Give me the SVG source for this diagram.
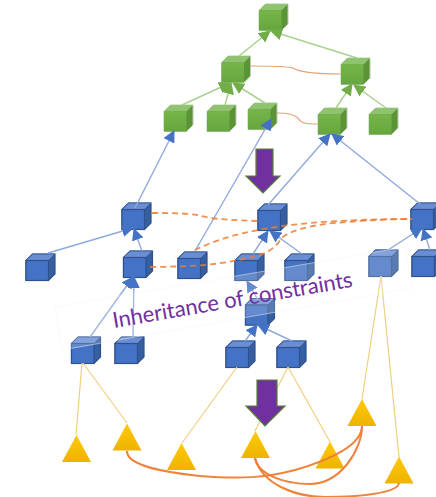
<svg xmlns="http://www.w3.org/2000/svg" xmlns:xlink="http://www.w3.org/1999/xlink" width="436" height="497" viewBox="0 0 436 497">
<style>
.gl{fill:none;stroke:#a9d18e;stroke-width:1.500}
.bl{fill:none;stroke:#8faadc;stroke-width:1.400}
.yl{fill:none;stroke:#f0cf80;stroke-width:1.200}
.ot{fill:none;stroke:#e8a070;stroke-width:1.200}
.od{fill:none;stroke:#ed7d31;stroke-width:1.800;stroke-dasharray:6 4;opacity:.85}
.oc{fill:none;stroke:#ed7d31;stroke-width:2;opacity:.95}
.pa{fill:#7030a0;stroke:#548235;stroke-width:1.200}
.lab{font-family:"Lato","Open Sans","Liberation Sans",sans-serif;font-size:22px;fill:#7030a0}
</style>
<defs>
<linearGradient id="gf" x1="0" y1="0" x2="0" y2="1"><stop offset="0" stop-color="#76b54a"/><stop offset="1" stop-color="#66a63e"/></linearGradient>
<linearGradient id="yf" x1="0" y1="0" x2="0" y2="1"><stop offset="0" stop-color="#ffc90a"/><stop offset="1" stop-color="#edb400"/></linearGradient>
<marker id="ag" markerWidth="12" markerHeight="12" refX="11" refY="6" orient="auto" markerUnits="userSpaceOnUse"><path d="M0 0L12 6L0 12z" fill="#70ad47"/></marker>
<marker id="ab" markerWidth="12" markerHeight="12" refX="11" refY="6" orient="auto" markerUnits="userSpaceOnUse"><path d="M0 0L12 6L0 12z" fill="#4472c4"/></marker>
<g id="cg"><path d="M0 6.500L6.500 0H29V20L22.500 26.500H0z" fill="#5b9337" stroke="#b9ccae" stroke-width="1"/><path d="M0 6.500L6.500 0H29L22.500 6.500z" fill="#90c36f"/><rect x="0" y="6.500" width="22.500" height="20" fill="url(#gf)"/></g>
<g id="cb"><path d="M0 6.500L6.500 0H29V20L22.500 26.500H0z" fill="#365f9f" stroke="#2f528f" stroke-width="1.200"/><path d="M0 6.500L6.500 0H29L22.500 6.500z" fill="#698ed3" stroke="#2f528f" stroke-width=".8"/><rect x="0" y="6.500" width="22.500" height="20" fill="#4472c4" stroke="#2f528f" stroke-width="1.200"/></g>
<path id="tri" d="M14.500 0L29 27H0z" fill="url(#yf)"/>
</defs>
<g id="node-g0"><use href="#cg" x="259" y="4"/></g>
<g id="node-g1"><use href="#cg" x="221.500" y="56"/></g>
<g id="node-g2"><use href="#cg" x="341" y="58"/></g>
<g id="node-g3"><use href="#cg" x="164" y="105"/></g>
<g id="node-g4"><use href="#cg" x="207" y="105"/></g>
<g id="node-g5"><use href="#cg" x="248" y="103"/></g>
<g id="node-g6"><use href="#cg" x="318" y="108"/></g>
<g id="node-g7"><use href="#cg" x="369" y="108"/></g>
<g id="node-b1"><use href="#cb" x="122" y="203"/></g>
<g id="node-b2"><use href="#cb" x="123.500" y="251"/></g>
<g id="node-b3"><use href="#cb" x="26" y="254"/></g>
<g id="node-b4"><use href="#cb" x="178" y="252"/></g>
<g id="node-b5"><use href="#cb" x="71.500" y="337"/></g>
<g id="node-b6"><use href="#cb" x="115" y="337"/></g>
<g id="node-b7"><use href="#cb" x="258" y="204"/></g>
<g id="node-b8"><use href="#cb" x="235" y="254"/></g>
<g id="node-b9"><use href="#cb" x="285" y="254"/></g>
<g id="node-b10"><use href="#cb" x="411" y="203"/></g>
<g id="node-b11"><use href="#cb" x="369" y="250"/></g>
<g id="node-b12"><use href="#cb" x="412" y="250"/></g>
<g id="node-b13"><use href="#cb" x="245.500" y="298.500"/></g>
<g id="node-b14"><use href="#cb" x="226" y="341"/></g>
<g id="node-b15"><use href="#cb" x="277" y="341"/></g>
<g id="node-t1"><use href="#tri" x="62" y="435"/></g>
<g id="node-t2"><use href="#tri" x="112.500" y="423.500"/></g>
<g id="node-t3"><use href="#tri" x="167" y="443"/></g>
<g id="node-t4"><use href="#tri" x="241" y="431"/></g>
<g id="node-t5"><use href="#tri" x="315.500" y="441.500"/></g>
<g id="node-t6"><use href="#tri" x="347.500" y="399"/></g>
<g id="node-t7"><use href="#tri" x="384.500" y="456.500"/></g>
<g id="connectors">
<g marker-end="url(#ag)">
<path class="gl" d="M239 56L270 31"/><path class="gl" d="M357 58L271 31"/>
<path class="gl" d="M182 105L230 83"/><path class="gl" d="M225 105L231 83"/><path class="gl" d="M265 103L233 83"/>
<path class="gl" d="M336 108L352 84"/><path class="gl" d="M386 108L354 85"/>
</g>
<g marker-end="url(#ab)">
<path class="bl" d="M135 208L174 131"/><path class="bl" d="M195 251L271 119"/>
<path class="bl" d="M268 205L330 134"/><path class="bl" d="M420 204L332 134"/>
<path class="bl" d="M48 253L133 228"/><path class="bl" d="M142 251L134 229"/>
<path class="bl" d="M90 337L133 277"/><path class="bl" d="M133 337L134 277"/>
<path class="bl" d="M253 254L268 231"/><path class="bl" d="M302 254L270 231"/>
<path class="bl" d="M258 300L247 281"/><path class="bl" d="M245 341L257 325"/><path class="bl" d="M292 341L258 325"/>
<path class="bl" d="M388 250L422 228"/><path class="bl" d="M430 250L423 229"/>
</g>
<path class="ot" d="M250 66C270 66 285 66 293 68C299 72 320 74 341 74"/>
<path class="ot" d="M277 113C286 113 294 114 298 118C301 124 308 124 318 124"/>
<path class="od" d="M152 213C170 213 185 213 197 215C215 220 235 220 258 221"/>
<path class="od" d="M150 267C170 267 190 266 205 265C225 263 240 260 253 257C265 254 275 249 280 240C285 232 310 224 347 222C370 220 395 219 412 219"/>
<path class="od" d="M195 250C215 240 240 232 283 226C320 221 370 219 412 219"/>
<path class="yl" d="M82 363L76 435"/><path class="yl" d="M83 363L127 423"/>
<path class="yl" d="M237 367L182 443"/><path class="yl" d="M288 367L255 431"/><path class="yl" d="M288 367L330 442"/>
<path class="yl" d="M381 276L362 399"/><path class="yl" d="M381 276L399 457"/>
<path class="oc" d="M127 451C126 466 170 473 200 476C240 479 265 478 295 470C330 460 362 445 362 426"/>
<path class="oc" d="M255 458C258 475 285 484 310 484C340 484 362 450 362 426"/>
<path class="oc" d="M255 458C262 484 295 497 325 497C360 497 398 493 399 483"/>
</g>
<g id="arrow-top"><path class="pa" d="M256 149H273V176H280L263 193L246 176H256z"/></g>
<g id="arrow-bottom"><path class="pa" d="M257 380H277V406H285L265 426L246 406H257z"/></g>
<g id="label">
<path d="M55 307L405 247L412 288L62 350z" fill="#fff" fill-opacity=".18" stroke="#f4f4f4" stroke-width=".5"/>
<text class="lab" x="114" y="328" transform="rotate(-9.800 114 328)" textLength="243" lengthAdjust="spacing">Inheritance of constraints</text>
</g>
</svg>
